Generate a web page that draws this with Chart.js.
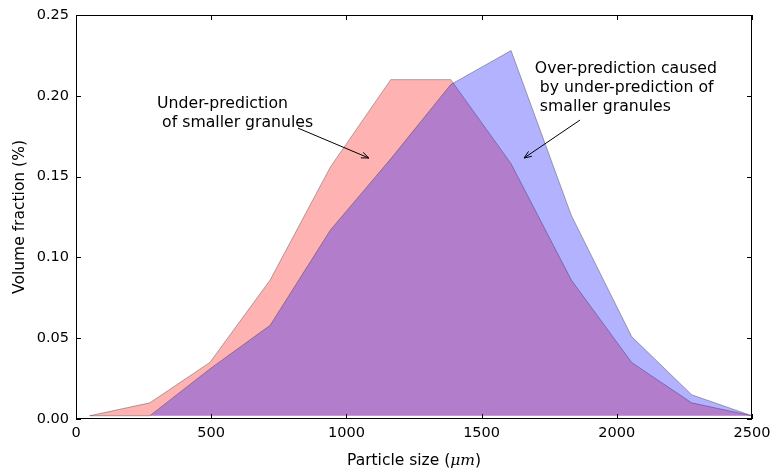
<!DOCTYPE html>
<html>
<head>
<meta charset="utf-8">
<script src="https://cdn.jsdelivr.net/npm/chart.js@4/dist/chart.umd.min.js"></script>
<style>
  html, body { margin: 0; padding: 0; background: #fff; }
</style>
</head>
<body>
<canvas id="chart" width="772" height="473"></canvas>
<script>
// particle size bins (um)
const sizes = [50, 273, 495, 718, 941, 1164, 1386, 1609, 1832, 2055, 2277, 2500];
// volume fraction, red = measured, blue = predicted
const redFraction = [0.002, 0.010, 0.035, 0.086, 0.156, 0.210, 0.210, 0.158, 0.086, 0.035, 0.010, 0.002];
const blueFraction = [0.002, 0.002, 0.031, 0.058, 0.117, 0.161, 0.207, 0.228, 0.126, 0.051, 0.015, 0.002];
const xTicks = [0, 500, 1000, 1500, 2000, 2500];
const yTicks = [0, 0.05, 0.10, 0.15, 0.20, 0.25];

const FONT = 'DejaVu Sans';
const FS = 14.5;      // tick labels
const FS_TITLE = 15.5;
const FS_NOTE = 15.7;

const notes = [
  { lines: ['Under-prediction', ' of smaller granules'], x: 300, y: 0.195,
    from: [821, 0.180], to: [1083, 0.1615] },
  { lines: ['Over-prediction caused', ' by under-prediction of', ' smaller granules'], x: 1697, y: 0.2166,
    from: [1864, 0.185], to: [1657, 0.1615] }
];

const toPoints = (ys) => ys.map((y, i) => ({ x: sizes[i], y: y }));

// frame, inward ticks, notes and the x title
const decorations = {
  id: 'decorations',
  afterDraw(chart) {
    const { ctx, chartArea: a, scales: { x, y } } = chart;
    ctx.save();
    ctx.strokeStyle = '#000';
    ctx.lineWidth = 1;
    ctx.strokeRect(a.left + 0.5, a.top + 0.5, a.right - a.left - 1, a.bottom - a.top - 1);

    ctx.beginPath();
    xTicks.forEach(v => {
      const px = Math.round(x.getPixelForValue(v)) + 0.5;
      ctx.moveTo(px, a.bottom); ctx.lineTo(px, a.bottom - 5);
      ctx.moveTo(px, a.top); ctx.lineTo(px, a.top + 5);
    });
    yTicks.forEach(v => {
      const py = Math.round(y.getPixelForValue(v)) + 0.5;
      ctx.moveTo(a.left, py); ctx.lineTo(a.left + 5, py);
      ctx.moveTo(a.right, py); ctx.lineTo(a.right - 5, py);
    });
    ctx.stroke();

    // annotations
    ctx.fillStyle = '#000';
    ctx.font = FS_NOTE + 'px ' + FONT;
    ctx.textAlign = 'left';
    ctx.textBaseline = 'middle';
    notes.forEach(n => {
      const tx = x.getPixelForValue(n.x);
      const ty = y.getPixelForValue(n.y);
      n.lines.forEach((l, i) => ctx.fillText(l, tx, ty + i * 18.8));

      const x0 = x.getPixelForValue(n.from[0]), y0 = y.getPixelForValue(n.from[1]);
      const x1 = x.getPixelForValue(n.to[0]), y1 = y.getPixelForValue(n.to[1]);
      const ang = Math.atan2(y1 - y0, x1 - x0);
      ctx.beginPath();
      ctx.moveTo(x0, y0); ctx.lineTo(x1, y1);
      ctx.moveTo(x1 - 8 * Math.cos(ang - 0.38), y1 - 8 * Math.sin(ang - 0.38));
      ctx.lineTo(x1, y1);
      ctx.lineTo(x1 - 8 * Math.cos(ang + 0.38), y1 - 8 * Math.sin(ang + 0.38));
      ctx.stroke();
    });

    // x title with italic unit
    const parts = [
      ['Particle size (', FS_TITLE + 'px ' + FONT],
      ['\u03bcm', 'italic ' + FS_TITLE + 'px DejaVu Serif'],
      [')', FS_TITLE + 'px ' + FONT]
    ];
    let total = 0;
    parts.forEach(p => { ctx.font = p[1]; total += ctx.measureText(p[0]).width; });
    let cx = (a.left + a.right) / 2 - total / 2;
    parts.forEach(p => {
      ctx.font = p[1];
      ctx.fillText(p[0], cx, 461);
      cx += ctx.measureText(p[0]).width;
    });
    ctx.restore();
  }
};

new Chart(document.getElementById('chart'), {
  type: 'line',
  data: {
    datasets: [
      {
        label: 'predicted',
        data: toPoints(blueFraction),
        backgroundColor: 'rgba(0, 0, 255, 0.3)',
        borderColor: 'rgba(0, 0, 0, 0.3)',
        borderWidth: 1,
        fill: { value: 0.002 },
        pointRadius: 0,
        tension: 0,
        order: 1
      },
      {
        label: 'measured',
        data: toPoints(redFraction),
        backgroundColor: 'rgba(255, 0, 0, 0.3)',
        borderColor: 'rgba(0, 0, 0, 0.3)',
        borderWidth: 1,
        fill: { value: 0.002 },
        pointRadius: 0,
        tension: 0,
        order: 2
      }
    ]
  },
  options: {
    responsive: false,
    animation: false,
    layout: { padding: { top: 15, right: 20, left: 0, bottom: 0 } },
    plugins: {
      legend: { display: false },
      tooltip: { enabled: false }
    },
    scales: {
      x: {
        type: 'linear',
        min: 0,
        max: 2500,
        afterFit: (s) => { s.height = 54; s.paddingLeft = 0; s.paddingRight = 0; },
        afterBuildTicks: (s) => { s.ticks = xTicks.map(v => ({ value: v })); },
        grid: { display: false, drawTicks: false },
        border: { display: false },
        ticks: {
          color: '#000', padding: 6, font: { family: FONT, size: FS }, maxRotation: 0,
          callback: (v) => String(v)
        }
      },
      y: {
        min: 0,
        max: 0.25,
        afterFit: (s) => { s.width = 76; s.paddingTop = 0; s.paddingBottom = 0; },
        afterBuildTicks: (s) => { s.ticks = yTicks.map(v => ({ value: v })); },
        grid: { display: false, drawTicks: false },
        border: { display: false },
        ticks: {
          color: '#000', padding: 7, font: { family: FONT, size: FS },
          callback: (v) => Number(v).toFixed(2)
        },
        title: {
          display: true,
          text: 'Volume fraction (%)',
          color: '#000',
          font: { family: FONT, size: FS_TITLE },
          padding: { top: 10.5, bottom: 0 }
        }
      }
    }
  },
  plugins: [decorations]
});
</script>
</body>
</html>
